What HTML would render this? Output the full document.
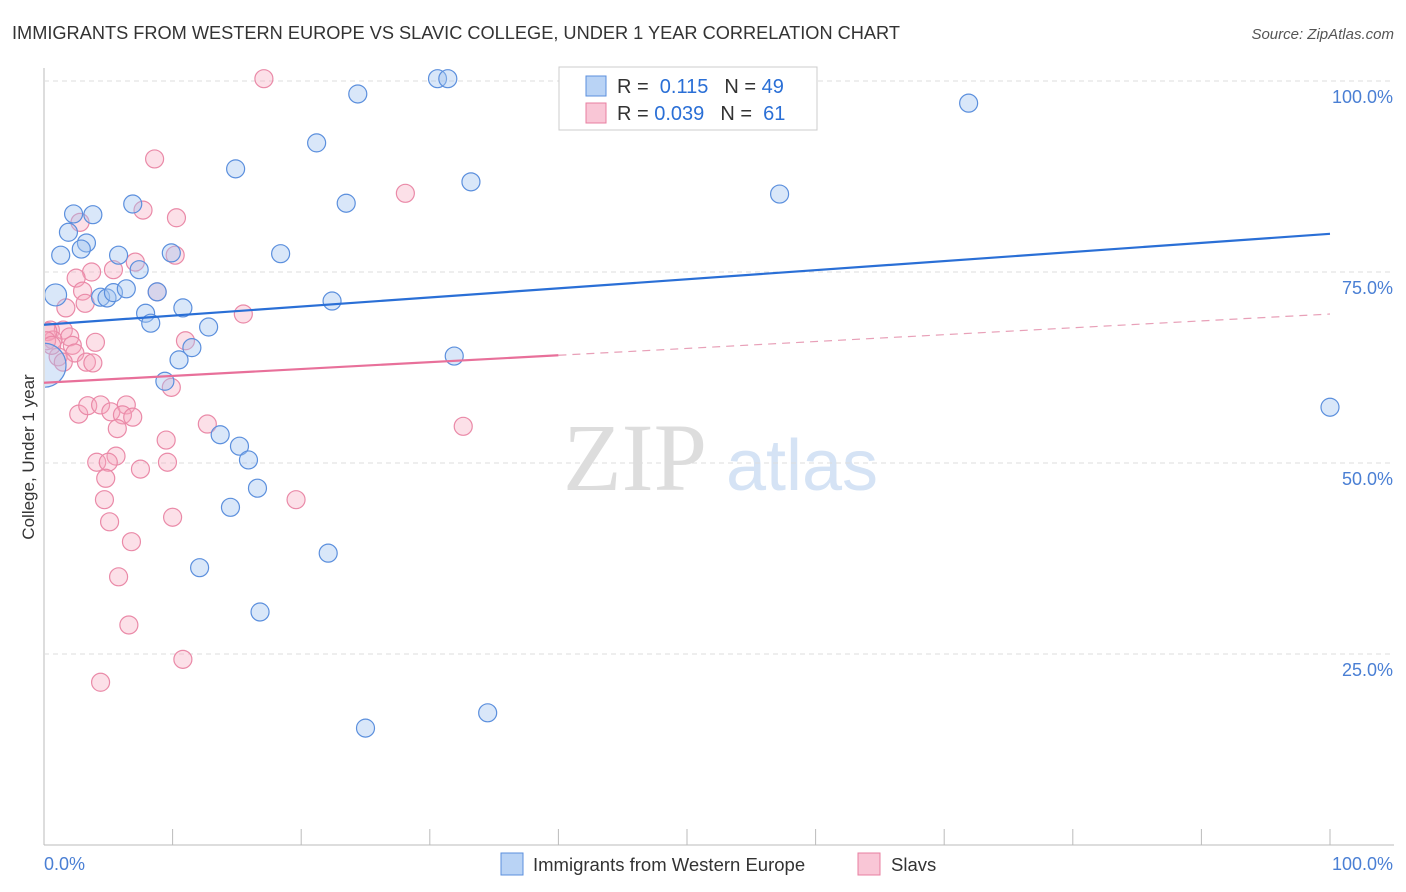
<!DOCTYPE html>
<html><head><meta charset="utf-8"><style>
body{margin:0;background:#fff;font-family:"Liberation Sans",sans-serif;}
#wrap{position:relative;width:1406px;height:892px;overflow:hidden;}
</style></head><body>
<div id="wrap">
<svg id="svg" width="1406" height="892" xmlns="http://www.w3.org/2000/svg">
<defs><clipPath id="plotclip"><rect x="45" y="60" width="1360" height="785"/></clipPath></defs>
<text x="12" y="39" font-size="18.2" fill="#333">IMMIGRANTS FROM WESTERN EUROPE VS SLAVIC COLLEGE, UNDER 1 YEAR CORRELATION CHART</text>
<text x="1394" y="39" font-size="15" fill="#555" font-style="italic" text-anchor="end">Source: ZipAtlas.com</text>
<text x="635" y="490" font-size="96" fill="#ddd" font-family="Liberation Serif, serif" text-anchor="middle">ZIP</text>
<text x="802" y="490" font-size="72" fill="#d5e3f5" text-anchor="middle">atlas</text>
<text transform="translate(34,457) rotate(-90)" font-size="17" fill="#333" text-anchor="middle">College, Under 1 year</text>
<g id="grid"></g><g id="pts" clip-path="url(#plotclip)"></g><g id="lines"></g>
<g>
<rect x="559" y="67" width="258" height="63" fill="#fff" stroke="#ccc"/>
<rect x="586" y="76" width="20" height="20" fill="#b9d3f5" stroke="#5b8fdd"/>
<rect x="586" y="103" width="20" height="20" fill="#f9c6d6" stroke="#e87fa0"/>
<text x="617" y="93" font-size="20" fill="#333">R = <tspan fill="#2a6fd6">&#160;0.115</tspan><tspan dx="16">N = </tspan><tspan fill="#2a6fd6">49</tspan></text>
<text x="617" y="120" font-size="20" fill="#333">R = <tspan fill="#2a6fd6">0.039</tspan><tspan dx="16">N = </tspan><tspan fill="#2a6fd6">&#160;61</tspan></text>
</g>
<g>
<rect x="501" y="853" width="22" height="22" fill="#b9d3f5" stroke="#5b8fdd"/>
<text x="533" y="871" font-size="18.5" fill="#333">Immigrants from Western Europe</text>
<rect x="858" y="853" width="22" height="22" fill="#f9c6d6" stroke="#e87fa0"/>
<text x="891" y="871" font-size="18.5" fill="#333">Slavs</text>
</g>
</svg>
<script>
const yTicks=[25,50,75,100];
const yTickLabels=["25.0%","50.0%","75.0%","100.0%"];
const xTickLabels=["0.0%","100.0%"];
const blueX=[30.6,31.4,47.7,24.4,71.9,21.2,14.9,33.2,57.2,23.5,6.9,2.3,3.8,1.9,3.3,2.9,1.3,5.8,9.9,18.4,7.4,0.9,4.4,4.9,5.4,6.4,8.8,10.8,22.4,7.9,8.3,12.8,11.5,10.5,31.9,9.4,13.7,15.2,15.9,16.6,14.5,22.1,12.1,16.8,25.0,34.5,100,0];
const blueY=[100.3,100.3,100.3,98.3,97.1,91.9,88.5,86.8,85.2,84.0,83.9,82.6,82.5,80.2,78.8,78.0,77.2,77.2,77.5,77.4,75.3,72.0,71.7,71.6,72.3,72.8,72.4,70.3,71.2,69.6,68.3,67.8,65.1,63.5,64.0,60.7,53.7,52.2,50.4,46.7,44.2,38.2,36.3,30.5,15.3,17.3,57.3,62.8];
const blueR=[9,9,9,9,9,9,9,9,9,9,9,9,9,9,9,9,9,9,9,9,9,11,9,9,9,9,9,9,9,9,9,9,9,9,9,9,9,9,9,9,9,9,9,9,9,9,9,22];
const pinkX=[17.1,8.6,28.1,7.7,10.3,2.8,10.2,7.1,5.4,3.7,2.5,3.0,8.8,3.2,1.7,15.5,0.5,1.5,2.0,0.7,4.0,11.0,2.2,2.4,1.1,1.5,3.3,3.8,9.9,2.7,3.4,4.4,5.2,6.4,6.1,6.9,5.7,9.5,12.7,32.6,4.1,5.6,5.0,7.5,9.6,4.8,4.7,19.6,5.1,10.0,6.8,5.8,6.6,10.8,4.4,0.3,0.2,0.6];
const pinkY=[100.3,89.8,85.3,83.1,82.1,81.5,77.2,76.3,75.3,75.0,74.2,72.5,72.4,70.9,70.3,69.5,67.4,67.4,66.5,66.1,65.8,66.0,65.4,64.4,63.9,63.2,63.2,63.1,59.9,56.4,57.5,57.6,56.7,57.6,56.3,56.0,54.5,53.0,55.1,54.8,50.1,50.9,50.1,49.2,50.1,48.0,45.2,45.2,42.3,42.9,39.7,35.1,28.8,24.3,21.3,67.2,66.0,65.4];
const blueTrend=[68.1,80.0];
const pinkTrend=[60.5,69.5];
const pinkSolidEnd=40;
const sx=v=>44+v*12.86, sy=v=>845-v*7.64;
const NS="http://www.w3.org/2000/svg";
function mk(tag,attrs,parent){const e=document.createElementNS(NS,tag);for(const k in attrs)e.setAttribute(k,attrs[k]);parent.appendChild(e);return e;}
const grid=document.getElementById('grid');
let ax=mk('line',{x1:44,y1:68,x2:44,y2:845,stroke:'#bbb'},grid);


let bx=mk('line',{x1:44,y1:845,x2:1394,y2:845,stroke:'#bbb'},grid);


for(let i=0;i<=10;i++){let t=mk('line',{x1:sx(i*10),y1:829,x2:sx(i*10),y2:845,stroke:'#bbb'},grid);

}
yTicks.forEach((v,i)=>{let g=mk('line',{x1:44,y1:sy(v),x2:1394,y2:sy(v),stroke:'#ddd','stroke-dasharray':'5,4'},grid);


let t=mk('text',{x:1393,y:sy(v)+22,'font-size':18,fill:'#4a7fd4','text-anchor':'end'},grid);t.textContent=yTickLabels[i];

});
let xl0=mk('text',{x:44,y:870,'font-size':18,fill:'#4a7fd4'},grid);xl0.textContent=xTickLabels[0];


let xl1=mk('text',{x:1393,y:870,'font-size':18,fill:'#4a7fd4','text-anchor':'end'},grid);xl1.textContent=xTickLabels[1];


const pts=document.getElementById('pts');
pinkX.forEach((x,i)=>{let c=mk('circle',{cx:sx(x),cy:sy(pinkY[i]),r:9,fill:'rgba(245,165,190,0.35)',stroke:'#ea8aa8','stroke-width':1.2},pts);

});
blueX.forEach((x,i)=>{let c=mk('circle',{cx:sx(x),cy:sy(blueY[i]),r:blueR[i],fill:'rgba(160,195,240,0.4)',stroke:'#5b8fdd','stroke-width':1.2},pts);

});
const lines=document.getElementById('lines');
let bl=mk('line',{x1:sx(0),y1:sy(blueTrend[0]),x2:sx(100),y2:sy(blueTrend[1]),stroke:'#2a6fd6','stroke-width':2.2},lines);


const pAt=x=>pinkTrend[0]+(pinkTrend[1]-pinkTrend[0])*x/100;
let pl=mk('line',{x1:sx(0),y1:sy(pAt(0)),x2:sx(pinkSolidEnd),y2:sy(pAt(pinkSolidEnd)),stroke:'#e8709a','stroke-width':2.2},lines);


let pd=mk('line',{x1:sx(pinkSolidEnd),y1:sy(pAt(pinkSolidEnd)),x2:sx(100),y2:sy(pAt(100)),stroke:'#e8a0b8','stroke-width':1.2,'stroke-dasharray':'8,6'},lines);


</script>
</div>
</body></html>
